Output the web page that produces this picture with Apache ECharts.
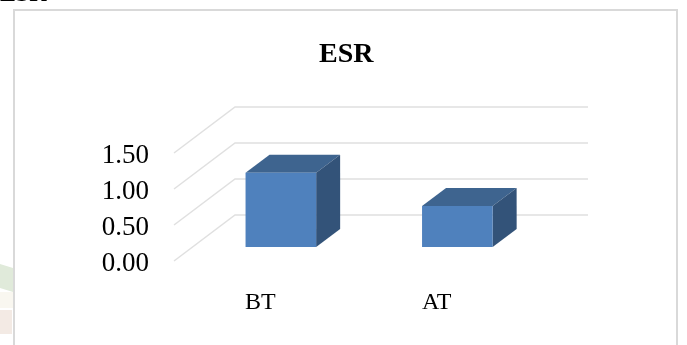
<!DOCTYPE html>
<html>
<head>
<meta charset="utf-8">
<style>html,body{margin:0;padding:0;background:#fff}#c{width:687px;height:345px}</style>
<script src="https://cdn.jsdelivr.net/npm/echarts@6/dist/echarts.min.js"></script>
</head>
<body>
<div id="c"></div>
<script>
const chartTitle = 'ESR';
const categories = ['BT', 'AT'];
const values = [1.03, 0.57];
const yTicks = [0, 0.5, 1, 1.5];

// Oblique depth of the floor and of each box, in pixels
const WALL_DX = 61, WALL_DY = 46;
const FLOOR_DX = 18.6, FLOOR_DY = 14;
const BOX_DX = 24, BOX_DY = 18;
const SERIF = '"Liberation Serif", serif';

const chart = echarts.init(document.getElementById('c'), null, { renderer: 'canvas' });

function wallLine(params, api) {
  const p = api.coord([0, api.value(0)]);
  const left = params.coordSys.x, right = left + params.coordSys.width;
  return {
    type: 'polyline',
    silent: true,
    shape: { points: [[left, p[1]], [left + WALL_DX, p[1] - WALL_DY], [right + WALL_DX, p[1] - WALL_DY]] },
    style: { fill: null, stroke: '#e0e0e0', lineWidth: 1.5 }
  };
}

function box(params, api) {
  const c = api.coord([api.value(0), 0]);
  const t = api.coord([api.value(0), api.value(1)]);
  const w = api.size([1, 0])[0] * 0.4;
  const x0 = c[0] - w / 2 + FLOOR_DX, x1 = x0 + w;
  const yb = c[1] - FLOOR_DY, yt = t[1] - FLOOR_DY;
  return {
    type: 'group',
    children: [
      { type: 'polygon', shape: { points: [[x0, yt], [x0 + BOX_DX, yt - BOX_DY], [x1 + BOX_DX, yt - BOX_DY], [x1, yt]] }, style: { fill: '#3e648f' } },
      { type: 'polygon', shape: { points: [[x1, yt], [x1 + BOX_DX, yt - BOX_DY], [x1 + BOX_DX, yb - BOX_DY], [x1, yb]] }, style: { fill: '#335379' } },
      { type: 'rect', shape: { x: x0, y: yt, width: w, height: yb - yt }, style: { fill: '#4f81bd' } }
    ]
  };
}

chart.setOption({
  animation: false,
  backgroundColor: '#fff',
  title: {
    text: chartTitle,
    left: 314, top: 36,
    textStyle: { fontFamily: SERIF, fontWeight: 'bold', fontSize: 28, color: '#000' }
  },
  grid: { left: 174, top: 153, width: 353, height: 108 },
  xAxis: {
    type: 'category',
    data: categories,
    axisLine: { show: false },
    axisTick: { show: false },
    axisLabel: { margin: 30, fontFamily: SERIF, fontSize: 24, color: '#000', padding: [0, 4, 0, 0] }
  },
  yAxis: {
    type: 'value',
    min: 0, max: 1.5, interval: 0.5,
    splitLine: { show: false },
    axisLine: { show: false },
    axisTick: { show: false },
    axisLabel: {
      margin: 25,
      color: '#000',
      formatter: v => '{n|' + v.toFixed(2) + '}',
      rich: { n: { fontFamily: SERIF, fontSize: 27, color: '#000', padding: [6, 0, 0, 0] } }
    }
  },
  series: [
    { type: 'custom', renderItem: wallLine, data: yTicks.map(v => [v]), encode: { y: 0 }, z: 1 },
    { type: 'custom', renderItem: box, data: categories.map((c, i) => [i, values[i]]), encode: { x: 0, y: 1 }, z: 2 }
  ],
  graphic: [
    { type: 'polygon', z: -2, shape: { points: [[0, 264], [13, 268], [13, 292], [0, 288]] }, style: { fill: '#e0eada' } },
    { type: 'rect', z: -2, shape: { x: 0, y: 292, width: 13, height: 16 }, style: { fill: '#f9f7f0' } },
    { type: 'rect', z: -2, shape: { x: 0, y: 310, width: 12, height: 24 }, style: { fill: '#f3eae4' } },
    { type: 'rect', z: -1, shape: { x: 14, y: 10, width: 663, height: 345 }, style: { fill: '#fff', stroke: '#d9d9d9', lineWidth: 2 } },
    { type: 'text', x: 0, y: -17, style: { text: chartTitle, fontFamily: SERIF, fontWeight: 'bold', fontSize: 24, fill: '#000' } }
  ]
});
</script>
</body>
</html>
